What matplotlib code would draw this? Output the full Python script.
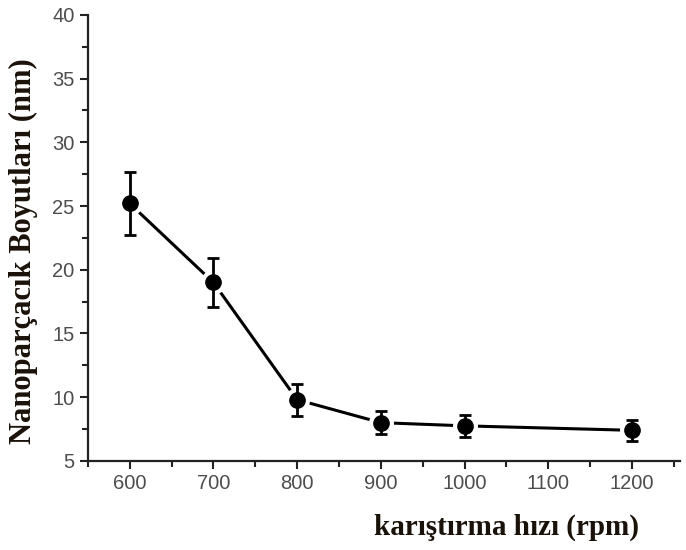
import matplotlib
matplotlib.use("Agg")
from matplotlib import pyplot as plt
from matplotlib.ticker import MultipleLocator

# veriler
hiz = [600, 700, 800, 900, 1000, 1200]
boyut = [25.2, 19.0, 9.8, 8.0, 7.75, 7.4]
hata = [2.5, 1.95, 1.25, 0.9, 0.85, 0.8]

fig = plt.figure(figsize=(6.86, 5.5), dpi=100)
ax = fig.add_axes([0.128, 0.162, 0.863, 0.811])

# çizgi, noktalarda küçük boşluklar
ax.plot(hiz, boyut, color="black", lw=2.2, zorder=1)
ax.plot(hiz, boyut, "o", ms=17, color="white", mec="white", zorder=2)
ax.errorbar(hiz, boyut, yerr=hata, fmt="o", ms=11, color="black",
            ecolor="black", elinewidth=2, capsize=4, capthick=2, zorder=3)

ax.set_xlim(550, 1257)
ax.set_ylim(5, 40)
ax.xaxis.set_major_locator(MultipleLocator(100))
ax.xaxis.set_minor_locator(MultipleLocator(50))
ax.yaxis.set_major_locator(MultipleLocator(5))
ax.yaxis.set_minor_locator(MultipleLocator(2.5))

for s in ["top", "right"]:
    ax.spines[s].set_visible(False)
for s in ["left", "bottom"]:
    ax.spines[s].set_linewidth(1.6)
    ax.spines[s].set_color("#222222")

ax.tick_params(which="major", direction="out", length=6, width=1.5,
               colors="#222222", labelcolor="#4d4d4d", labelsize=14.5)
ax.tick_params(which="minor", direction="out", length=4, width=1.5, colors="#222222")
for lab in ax.get_xticklabels() + ax.get_yticklabels():
    lab.set_family("Liberation Sans")

ax.set_xlabel("karıştırma hızı (rpm)", fontfamily="Liberation Serif",
              fontweight="bold", fontsize=21, color="#1a1208")
ax.xaxis.set_label_coords(0.708, -0.118)
ax.set_ylabel("Nanoparçacık Boyutları (nm)", fontfamily="Liberation Serif",
              fontweight="bold", fontsize=22, color="#1a1208")
ax.yaxis.set_label_coords(-0.084, 0.47)

plt.savefig("out.png", dpi=100)
